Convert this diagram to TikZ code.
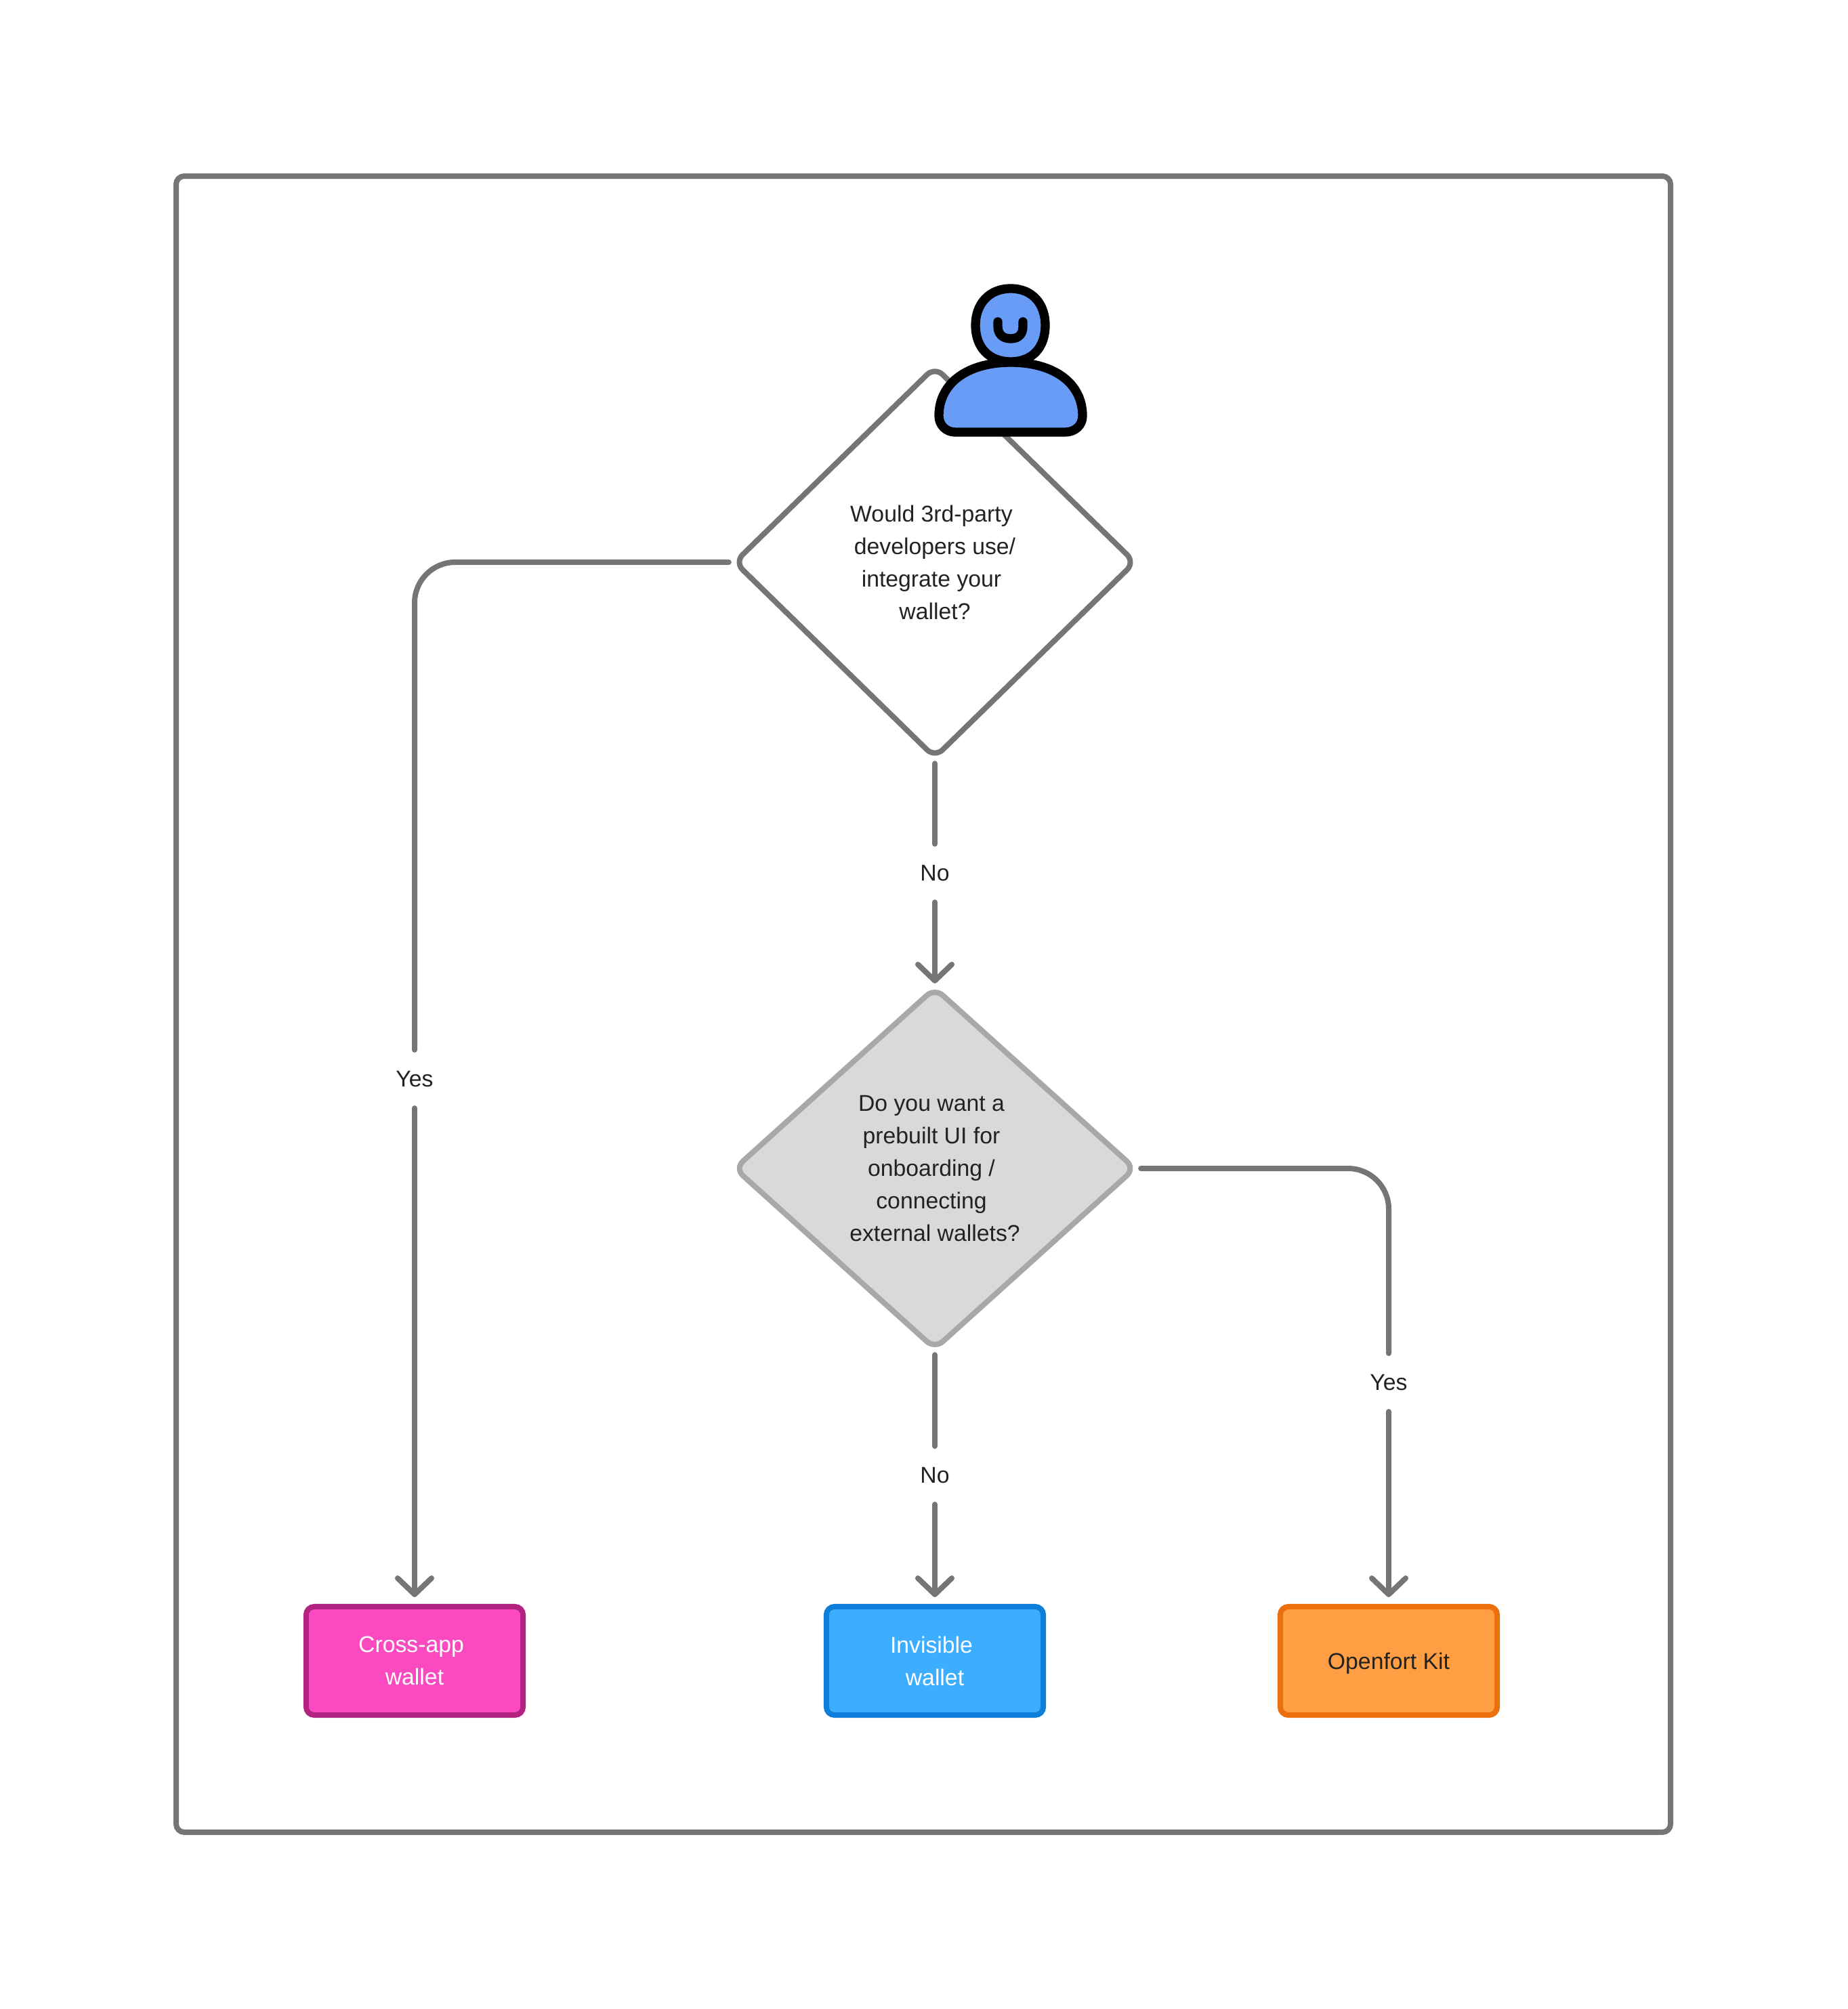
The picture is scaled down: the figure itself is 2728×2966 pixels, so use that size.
\documentclass[tikz,border=0pt]{standalone}
\usepackage{fontspec}
\setmainfont{Liberation Sans}
\usetikzlibrary{shapes.geometric}
\usetikzlibrary{arrows.meta}

\definecolor{linegray}{HTML}{757575}
\definecolor{inkgray}{HTML}{222222}
\definecolor{askfill}{HTML}{D9D9D9}
\definecolor{askedge}{HTML}{A8A8A8}
\definecolor{pinkfill}{HTML}{FB49C0}
\definecolor{pinkedge}{HTML}{B32381}
\definecolor{bluefill}{HTML}{3DADFF}
\definecolor{blueedge}{HTML}{0D7FDB}
\definecolor{orangefill}{HTML}{FF9E42}
\definecolor{orangeedge}{HTML}{EB6F0A}
\definecolor{userfill}{HTML}{699CF7}

% trailing space of a line
\newcommand{\tsp}{\kern0.1cm}

\tikzset{
    ask/.style={diamond,draw,line width=0.08cm,rounded corners=0.16cm,
        inner sep=0pt,outer sep=0pt,align=center,text=inkgray,
        font=\fontsize{9.6pt}{13.66pt}\selectfont},
    wallet/.style={rectangle,line width=0.08cm,rounded corners=0.12cm,
        minimum width=3.2cm,minimum height=1.6cm,inner sep=0pt,outer sep=0pt,
        align=center,font=\fontsize{9.6pt}{13.66pt}\selectfont},
    flowline/.style={draw=linegray,line width=0.08cm,line cap=round,
        rounded corners=0.6cm,shorten <=0.09cm},
    flow/.style={draw=linegray,line width=0.08cm,line cap=round,shorten >=0.14cm,
        -{Straight Barb[length=0.24cm,width=0.5cm,round]}},
    answer/.style={inner sep=0pt,outer sep=0pt,minimum height=0.86cm,minimum width=0.8cm,
        text=inkgray,font=\fontsize{9.6pt}{13.66pt}\selectfont},
}

\begin{document}
\begin{tikzpicture}[x=0.01cm,y=-0.01cm]
    \useasboundingbox (0,0) rectangle (2728,2966);

    % outer frame
    \draw[draw=linegray,line width=0.08cm,rounded corners=0.12cm] (260,260) rectangle (2466,2705);

    % questions
    \node[ask,draw=linegray,minimum width=5.9cm,minimum height=5.76cm] (qthird) at (1380,830)
        {Would 3rd-party\tsp\\developers use/\\integrate your\tsp\\wallet?};
    \node[ask,draw=askedge,fill=askfill,minimum width=5.9cm,minimum height=5.32cm] (qprebuilt) at (1380,1725)
        {Do you want a\tsp\\prebuilt UI for\tsp\\onboarding /\tsp\\connecting\tsp\\external wallets?};

    % wallets
    \node[wallet,draw=pinkedge,fill=pinkfill,text=white] (crossapp) at (612,2452) {Cross-app\tsp\\wallet};
    \node[wallet,draw=blueedge,fill=bluefill,text=white] (invisible) at (1380,2452) {Invisible\tsp\\wallet};
    \node[wallet,draw=orangeedge,fill=orangefill,text=inkgray,align=none,text depth=0pt] (kit) at (2050,2452) {Openfort Kit};

    % answers
    \node[answer] (yescross) at (612,1593) {Yes};
    \node[answer] (nofirst) at (1380,1289) {No};
    \node[answer] (nosecond) at (1380,2178) {No};
    \node[answer] (yeskit) at (2050,2041) {Yes};

    % connectors
    \draw[flowline] (qthird.west) -| (yescross.north);
    \draw[flow] (yescross.south) -- (crossapp.north);
    \draw[flowline] (qthird.south) -- (nofirst.north);
    \draw[flow,shorten >=0.07cm] (nofirst.south) -- (qprebuilt.north);
    \draw[flowline] (qprebuilt.south) -- (nosecond.north);
    \draw[flow] (nosecond.south) -- (invisible.north);
    \draw[flowline] (qprebuilt.east) -| (yeskit.north);
    \draw[flow] (yeskit.south) -- (kit.north);

    % user
    \draw[fill=userfill,line width=0.133cm]
        (1492,426) .. controls (1525,426) and (1543,450) .. (1543,480)
        .. controls (1543,512) and (1525,534) .. (1492,534)
        .. controls (1459,534) and (1440,512) .. (1440,480)
        .. controls (1440,450) and (1459,426) .. (1492,426) -- cycle;
    \draw[line width=0.133cm,line cap=round]
        (1473,475) -- (1473,482) .. controls (1473,493) and (1480,500) .. (1492,500)
        .. controls (1504,500) and (1510,493) .. (1510,482) -- (1510,475);
    \draw[fill=userfill,line width=0.133cm]
        (1410,638) -- (1572,638) .. controls (1587,638) and (1598,628) .. (1598,614)
        .. controls (1598,565) and (1555,535) .. (1492,535)
        .. controls (1429,535) and (1386,565) .. (1386,614)
        .. controls (1386,628) and (1397,638) .. (1410,638) -- cycle;
\end{tikzpicture}
\end{document}
